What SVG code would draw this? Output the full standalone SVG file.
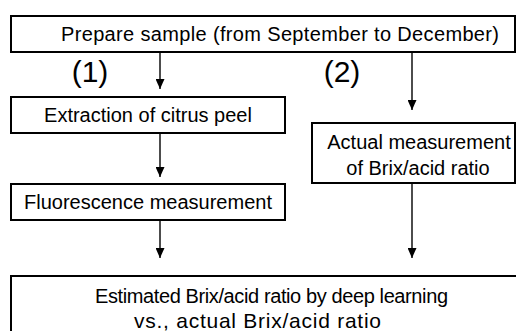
<svg xmlns="http://www.w3.org/2000/svg" width="516" height="331" viewBox="0 0 516 331">
  <style>
    .box { fill: #ffffff; stroke: #000000; stroke-width: 2; }
    .lbl { font-family: "Liberation Sans", Arial, sans-serif; font-size: 20px; fill: #000000; text-anchor: middle; }
    .fit { font-family: "Liberation Sans", Arial, sans-serif; font-size: 20px; fill: #000000; text-anchor: start; }
    .fit.big { font-size: 21px; }
    .num { font-family: "Liberation Sans", Arial, sans-serif; font-size: 30px; fill: #000000; text-anchor: middle; }
    .conn { stroke: #000000; stroke-width: 1.4; fill: none; marker-end: url(#head); }
  </style>
  <defs>
    <marker id="head" viewBox="0 0 10 9" refX="10" refY="4.5" markerWidth="10" markerHeight="9" markerUnits="userSpaceOnUse" orient="auto">
      <path d="M0,0 L10,4.5 L0,9 Z" fill="#000000"/>
    </marker>
  </defs>
  <rect width="516" height="331" fill="#ffffff"/>

  <g id="connectors">
    <line class="conn" x1="160" y1="52" x2="160" y2="89"/>
    <line class="conn" x1="412" y1="52" x2="412" y2="110"/>
    <line class="conn" x1="160" y1="133" x2="160" y2="177"/>
    <line class="conn" x1="160" y1="220" x2="160" y2="258"/>
    <line class="conn" x1="412" y1="183" x2="412" y2="258"/>
  </g>

  <g id="branch-labels">
    <text class="num" x="90" y="82">(1)</text>
    <text class="num" x="342" y="82">(2)</text>
  </g>

  <g id="prepare">
    <rect class="box" x="11" y="16" width="504" height="36"/>
    <text class="fit" x="61" y="41" textLength="438" lengthAdjust="spacing">Prepare sample (from September to December)</text>
  </g>

  <g id="extraction">
    <rect class="box" x="11" y="97" width="274" height="36"/>
    <text class="lbl" x="148" y="122">Extraction of citrus peel</text>
  </g>

  <g id="fluorescence">
    <rect class="box" x="11" y="184" width="274" height="36"/>
    <text class="lbl" x="148" y="208.5">Fluorescence measurement</text>
  </g>

  <g id="actual">
    <rect class="box" x="312" y="123" width="203" height="60"/>
    <text class="lbl" x="419" y="149">Actual measurement</text>
    <text class="lbl" x="418" y="175">of Brix/acid ratio</text>
  </g>

  <g id="comparison">
    <rect class="box" x="11" y="276" width="510" height="70"/>
    <text class="fit" x="95" y="303" textLength="353" lengthAdjust="spacing">Estimated Brix/acid ratio by deep learning</text>
    <text class="fit big" x="134" y="328" textLength="247" lengthAdjust="spacing">vs., actual Brix/acid ratio</text>
  </g>
</svg>
